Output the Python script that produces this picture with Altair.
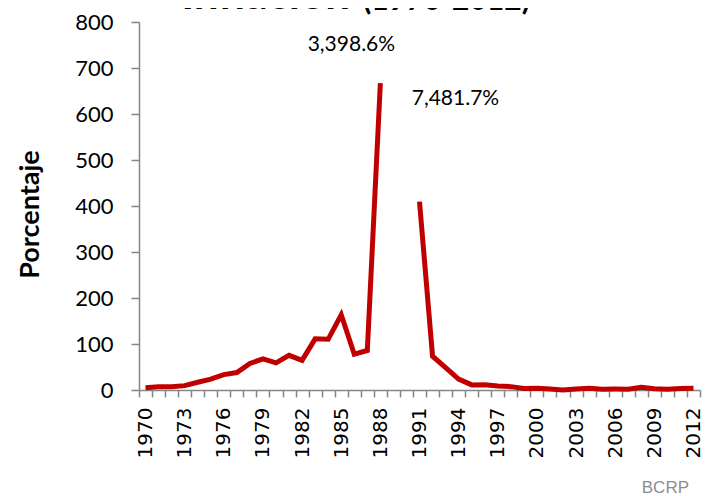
import altair as alt
import pandas as pd

years = list(range(1970, 2013))
inflation = [5.0, 6.8, 7.2, 9.5, 16.9, 23.6, 33.5, 38.0, 57.8, 67.7,
             59.1, 75.4, 64.5, 111.2, 110.2, 163.4, 77.9, 85.8, 667.0, None,
             None, 409.5, 73.5, 48.6, 23.7, 11.1, 11.5, 8.5, 7.3, 3.5,
             3.8, 2.0, 0.2, 2.3, 3.7, 1.6, 2.0, 1.8, 5.8, 2.9,
             1.5, 3.4, 3.7]
y_ticks = [0, 100, 200, 300, 400, 500, 600, 700, 800]

note_years = [1989, 1990]
note_labels = ["3,398.6%", "7,481.7%"]
note_ypos = [750, 632]

title_main = "Inflación"
title_sub = "(1970-2012)"
y_title = "Porcentaje"
source = "BCRP"

df = pd.DataFrame({"year": years, "value": inflation})
notes = pd.DataFrame({"year": note_years, "label": note_labels, "ypos": note_ypos})

xscale = alt.Scale(type="band", paddingInner=0, paddingOuter=0, domain=years)
yscale = alt.Scale(domain=[0, 800], nice=False)

AX = "#868686"

line = alt.Chart(df).mark_line(
    color="#C00000", strokeWidth=5, strokeCap="butt", strokeJoin="miter",
    invalid="break-paths-show-domains"
).encode(
    x=alt.X("year:O", scale=xscale, bandPosition=0.5,
            axis=alt.Axis(title=None, tickBand="extent", labelAngle=-90,
                          labelAlign="right", labelBaseline="middle",
                          labelFont="DejaVu Sans", labelFontSize=20,
                          labelColor="black", labelPadding=10,
                          labelOverlap=False, labelBound=False,
                          tickSize=7, tickColor=AX, tickWidth=1.5,
                          domainColor=AX, domainWidth=1.5, grid=False,
                          labelExpr="(datum.value - 1970) % 3 == 0 ? datum.label : ''")),
    y=alt.Y("value:Q", scale=yscale,
            axis=alt.Axis(values=y_ticks, title=y_title, grid=False,
                          labelFont="Lato", labelFontSize=22, labelColor="black",
                          labelPadding=18, tickSize=8, tickColor=AX, tickWidth=1.5,
                          domainColor=AX, domainWidth=1.5,
                          titleFont="Lato", titleFontSize=27, titleFontWeight="bold",
                          titleColor="black", titleX=-95, titleY=192,
                          titleBaseline="bottom", titleAngle=-90, titleAlign="center")),
)

n1 = alt.Chart(notes).transform_filter(alt.datum.year == 1989).mark_text(
    font="Lato", fontSize=21, color="black", baseline="middle", align="center", dx=-42
).encode(x=alt.X("year:O", scale=xscale, bandPosition=0.5),
         y=alt.Y("ypos:Q", scale=yscale), text="label:N")

n2 = alt.Chart(notes).transform_filter(alt.datum.year == 1990).mark_text(
    font="Lato", fontSize=21, color="black", baseline="middle", align="center", dx=49
).encode(x=alt.X("year:O", scale=xscale, bandPosition=0.5),
         y=alt.Y("ypos:Q", scale=yscale), text="label:N")

t1 = alt.Chart(pd.DataFrame({"t": [title_main]})).mark_text(
    font="Lato", fontSize=44, fontWeight="bold", color="black",
    align="right", baseline="alphabetic"
).encode(x=alt.value(211), y=alt.value(-13), text="t:N")

t2 = alt.Chart(pd.DataFrame({"t": [title_sub]})).mark_text(
    font="Lato", fontSize=30, fontWeight="bold", color="black",
    align="left", baseline="alphabetic"
).encode(x=alt.value(224), y=alt.value(-12), text="t:N")

src = alt.Chart(pd.DataFrame({"t": [source]})).mark_text(
    font="Liberation Sans", fontSize=17, color="#8C8C8C",
    align="right", baseline="alphabetic"
).encode(x=alt.value(550), y=alt.value(471), text="t:N")

chart = alt.layer(line, n1, n2, t1, t2, src).properties(
    width=561, height=368,
    padding={"left": 131, "top": 14, "right": 2, "bottom": 104},
    autosize=alt.AutoSizeParams(type="none"),
).configure_view(stroke=None)

chart.save("out.html", embed_options={"renderer": "svg", "actions": False})
